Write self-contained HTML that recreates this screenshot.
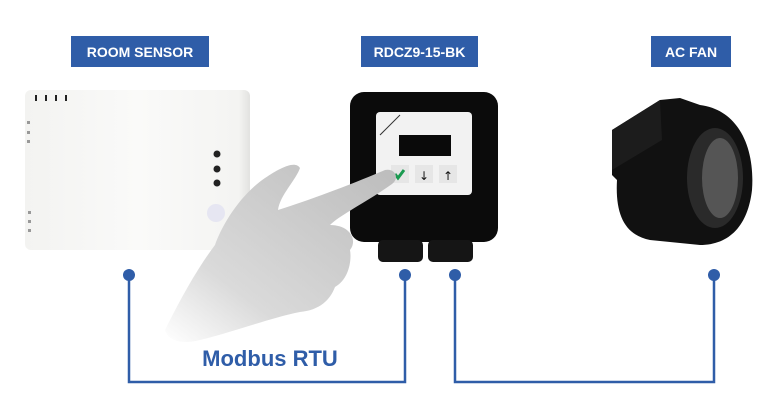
<!DOCTYPE html>
<html><head><meta charset="utf-8"><style>
html,body{margin:0;padding:0;background:#fff;}
svg{display:block}
</style></head><body>
<svg width="781" height="411" viewBox="0 0 781 411" xmlns="http://www.w3.org/2000/svg">
<defs>
<linearGradient id="sg" x1="0" y1="0" x2="1" y2="0"><stop offset="0" stop-color="#f3f3f1"/><stop offset="0.5" stop-color="#fafaf9"/><stop offset="0.95" stop-color="#f4f4f2"/><stop offset="1" stop-color="#e2e2e0"/></linearGradient>
<linearGradient id="hg" x1="0" y1="1" x2="1" y2="0"><stop offset="0" stop-color="#fff"/><stop offset="0.3" stop-color="#dadada"/><stop offset="1" stop-color="#bcbcbc"/></linearGradient>
</defs>
<rect x="71" y="36" width="138" height="31" fill="#2f5da8"/>
<text x="140" y="57" font-family="Liberation Sans, sans-serif" font-weight="bold" font-size="14" fill="#fff" text-anchor="middle">ROOM SENSOR</text>
<rect x="361" y="36" width="117" height="31" fill="#2f5da8"/>
<text x="419.5" y="57" font-family="Liberation Sans, sans-serif" font-weight="bold" font-size="14" fill="#fff" text-anchor="middle">RDCZ9-15-BK</text>
<rect x="651" y="36" width="80" height="31" fill="#2f5da8"/>
<text x="691" y="57" font-family="Liberation Sans, sans-serif" font-weight="bold" font-size="14" fill="#fff" text-anchor="middle">AC FAN</text>
<rect x="25" y="90" width="225" height="160" rx="6" fill="url(#sg)"/>
<g fill="#222"><rect x="35" y="95" width="2" height="6"/><rect x="45" y="95" width="2" height="6"/><rect x="55" y="95" width="2" height="6"/><rect x="65" y="95" width="2" height="6"/>
<circle cx="217" cy="154" r="3.5"/><circle cx="217" cy="169" r="3.5"/><circle cx="217" cy="183" r="3.5"/></g>
<g fill="#999"><rect x="27" y="121" width="3" height="3"/><rect x="27" y="131" width="3" height="3"/><rect x="27" y="140" width="3" height="3"/><rect x="28" y="211" width="3" height="3"/><rect x="28" y="220" width="3" height="3"/><rect x="28" y="229" width="3" height="3"/></g>
<circle cx="216" cy="213" r="9" fill="#e6e6f2"/>
<rect x="350" y="92" width="148" height="150" rx="14" fill="#0b0b0b"/>
<rect x="376" y="112" width="96" height="83" rx="4" fill="#f2f2f2"/>
<line x1="380" y1="135" x2="400" y2="115" stroke="#333" stroke-width="1"/>
<rect x="399" y="135" width="52" height="21" fill="#0a0a0a"/>
<rect x="391" y="165" width="18" height="18" fill="#e6e6e6"/><rect x="415" y="165" width="18" height="18" fill="#e6e6e6"/><rect x="439" y="165" width="18" height="18" fill="#e6e6e6"/>
<path d="M395 174 l3 4 l6 -8" stroke="#1a9a50" stroke-width="3" fill="none"/>
<text x="424" y="180" font-size="12" text-anchor="middle" fill="#111" font-family="DejaVu Sans, sans-serif">↓</text>
<text x="448" y="180" font-size="12" text-anchor="middle" fill="#111" font-family="DejaVu Sans, sans-serif">↑</text>
<rect x="378" y="240" width="45" height="22" rx="5" fill="#151515"/><rect x="428" y="240" width="45" height="22" rx="5" fill="#151515"/>
<path d="M165 330 C185 290 200 265 215 245 C222 225 240 195 265 178 C280 168 295 160 300 168 C296 180 280 195 278 210 C310 200 350 185 385 170 C395 168 400 178 392 184 C370 200 340 215 330 225 C350 225 358 240 350 250 C352 262 348 280 335 287 C330 300 320 310 300 312 C270 318 240 330 200 340 C180 345 168 340 165 330 Z" fill="url(#hg)"/>
<path d="M612 130 L660 100 L680 98 L700 105 C740 110 755 150 752 190 C748 225 730 245 700 245 L650 240 C625 235 615 215 617 180 L612 175 Z" fill="#111"/>
<ellipse cx="715" cy="178" rx="28" ry="50" fill="#2a2a2a"/>
<ellipse cx="720" cy="178" rx="18" ry="40" fill="#555"/>
<path d="M612 130 L660 100 L662 140 L612 170 Z" fill="#1c1c1c"/>
<g stroke="#2f5da8" stroke-width="2.5" fill="none">
<path d="M129 275 V382 H405 V275"/>
<path d="M455 275 V382 H714 V275"/>
</g>
<g fill="#2f5da8"><circle cx="129" cy="275" r="6"/><circle cx="405" cy="275" r="6"/><circle cx="455" cy="275" r="6"/><circle cx="714" cy="275" r="6"/></g>
<text x="270" y="366" font-family="Liberation Sans, sans-serif" font-weight="bold" font-size="22" fill="#2f5da8" text-anchor="middle">Modbus RTU</text>
</svg>
</body></html>
